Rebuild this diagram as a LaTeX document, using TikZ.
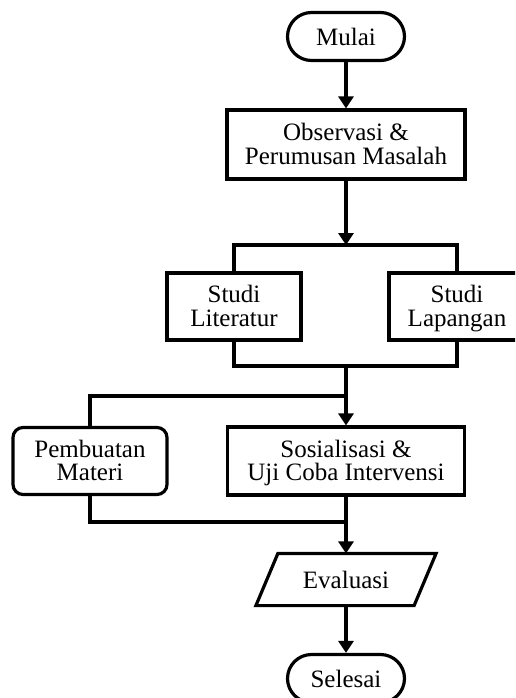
\documentclass[tikz,border=0pt]{standalone}
\usepackage{fontspec}
\setmainfont{Liberation Serif}
\usetikzlibrary{shapes.misc,arrows.meta}
\begin{document}
\begin{tikzpicture}[x=1pt,y=-1pt,line width=3.2pt,
  every node/.style={font=\fontsize{25pt}{23.5pt}\selectfont,align=center,inner sep=0pt},
  procbox/.style={draw,rectangle,text height=45pt,text depth=5.5pt},
  termbox/.style={draw,rounded rectangle,minimum width=117pt,minimum height=48pt},
  arr/.style={-{Triangle[length=12pt,width=15pt]}}]
\clip (0,0) rectangle (515,698);
\fill[white] (0,0) rectangle (515,698);
\node[termbox] (mulai) at (346,36.5) {Mulai};
\node[procbox,minimum width=238pt,minimum height=69pt] (obs) at (346,144.5) {Observasi \&\\Perumusan Masalah};
\node[procbox,minimum width=134pt,minimum height=67pt] (lit) at (234,306.5) {Studi\\Literatur};
\node[procbox,minimum width=136pt,minimum height=67pt] (lap) at (457,306.5) {Studi\\Lapangan};
\node[procbox,rounded corners=10pt,minimum width=154pt,minimum height=67pt] (pem) at (90,461) {Pembuatan\\Materi};
\node[procbox,minimum width=237pt,minimum height=68pt] (sos) at (346,461) {Sosialisasi \&\\Uji Coba Intervensi};
\node[minimum width=177pt,minimum height=49pt] (eval) at (346,579.5) {Evaluasi};
\draw (eval.south west) -- ([xshift=22pt]eval.north west) -- (eval.north east) -- ([xshift=-22pt]eval.south east) -- cycle;
\node[termbox] (sel) at (346,678.5) {Selesai};
\coordinate (j1) at (346,245);
\coordinate (j2) at (346,366);
\coordinate (j3) at (346,396);
\coordinate (j4) at (346,522);
\draw[arr] (mulai.south) -- (obs.north);
\draw[arr] (obs.south) -- (j1);
\draw (lit.north) |- (j1) -| (lap.north);
\draw (lit.south) |- (j2) -| (lap.south);
\draw (j2) -- (j3);
\draw[arr] (j3) -- (sos.north);
\draw (j3) -| (pem.north);
\draw (pem.south) |- (j4);
\draw (sos.south) -- (j4);
\draw[arr] (j4) -- (eval.north);
\draw[arr] (eval.south) -- (sel.north);
\end{tikzpicture}
\end{document}
